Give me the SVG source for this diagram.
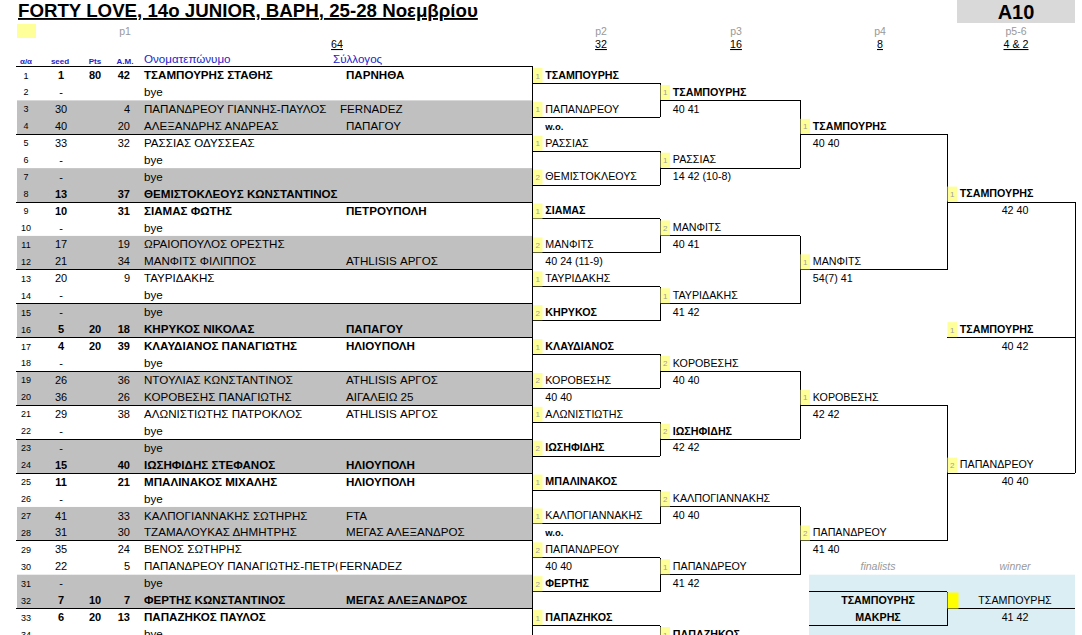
<svg xmlns="http://www.w3.org/2000/svg" width="1082" height="635" viewBox="0 0 1082 635">
<defs>
<style>
text{font-family:"Liberation Sans",Arial,"Noto Sans",sans-serif;fill:#000}
.b{font-weight:bold}
.aa{font-size:9px;text-anchor:middle;font-weight:normal}
.sd{font-size:11px;text-anchor:middle}
.am{font-size:11px;text-anchor:end}
.nm{font-size:11.6px}
.bn{font-size:10.7px}
.sc{font-size:10.7px}
.sc5{font-size:10.7px;text-anchor:middle}
.wo{font-size:9.5px;font-weight:bold}
.yd{font-size:8px;fill:#a0a0a0;text-anchor:middle;font-weight:normal}
.yb{fill:#ffff99}
.ln{stroke:#000;stroke-width:1;fill:none;shape-rendering:crispEdges}
.hd{fill:#2323c8}
.hs{font-size:8px;font-weight:bold;text-anchor:middle}
.pg{fill:#999;font-size:10.5px;text-anchor:middle}
.cn{font-size:10.7px;text-anchor:middle;text-decoration:underline}
.it{font-style:italic;fill:#999;font-size:10.5px;text-anchor:middle}
.gr{fill:#c0c0c0}
</style>
<clipPath id="clip30"><rect x="0" y="-5" width="337.5" height="25"/></clipPath>
</defs>
<rect width="1082" height="635" fill="#fff"/>

<g id="header">
<text x="18" y="17" font-size="18.7" font-weight="bold" text-decoration="underline">FORTY LOVE, 14o JUNIOR, ΒΑΡΗ, 25-28 Νοεμβρίου</text>
<rect x="957" y="0" width="118" height="23" fill="#d9d9d9"/>
<text x="1016" y="19" font-size="20" font-weight="bold" text-anchor="middle">A10</text>
<rect x="17" y="24" width="19" height="14" class="yb"/>
<text class="pg" x="125" y="35">p1</text>
<text class="pg" x="601" y="35">p2</text>
<text class="pg" x="736" y="35">p3</text>
<text class="pg" x="880" y="35">p4</text>
<text class="pg" x="1016" y="35">p5-6</text>
<text class="cn" x="337" y="48">64</text>
<text class="cn" x="601" y="48">32</text>
<text class="cn" x="736" y="48">16</text>
<text class="cn" x="880" y="48">8</text>
<text class="cn" x="1016" y="48">4 &amp; 2</text>
<text class="hs hd" x="26" y="64">α/α</text>
<text class="hs hd" x="60" y="64">seed</text>
<text class="hs hd" x="95" y="64">Pts</text>
<text class="hs hd" x="125" y="64">A.M.</text>
<text class="nm hd" x="144" y="63">Ονοματεπώνυμο</text>
<text class="nm hd" x="333" y="63">Σύλλογος</text>
</g>

<g id="table-shading">
<rect class="gr" x="17" y="100.38" width="515.5" height="33.88"/>
<rect class="gr" x="17" y="168.14" width="515.5" height="33.88"/>
<rect class="gr" x="17" y="235.9" width="515.5" height="33.88"/>
<rect class="gr" x="17" y="303.66" width="515.5" height="33.88"/>
<rect class="gr" x="17" y="371.42" width="515.5" height="33.88"/>
<rect class="gr" x="17" y="439.18" width="515.5" height="33.88"/>
<rect class="gr" x="17" y="506.94" width="515.5" height="33.88"/>
<rect class="gr" x="17" y="574.7" width="515.5" height="33.88"/>
<rect x="809" y="574.7" width="266" height="61" fill="#daeef3"/>
</g>

<g id="table-grid" class="ln">
<path d="M16 66.5H532.5M16 134.26H532.5M16 202.02H532.5M16 269.78H532.5M16 303.66H532.5M16 337.54H532.5M16 371.42H532.5M16 405.3H532.5M16 439.18H532.5M16 473.06H532.5M16 540.82H532.5M16 608.58H532.5M532.5 66.5V635"/>
</g>

<g id="rows">
<g id="row1" class="b" transform="translate(0,66.5)"><text class="aa" x="26" y="12">1</text><text class="sd" x="61" y="12.6">1</text><text class="sd" x="95" y="12.6">80</text><text class="am" x="130" y="12.6">42</text><text class="nm" x="144" y="12.6">ΤΣΑΜΠΟΥΡΗΣ ΣΤΑΘΗΣ</text><text class="nm" x="346" y="12.6">ΠΑΡΝΗΘΑ</text></g>
<g id="row2" transform="translate(0,83.44)"><text class="aa" x="26" y="12">2</text><text class="sd" x="61" y="12.6">-</text><text class="nm" x="144" y="12.6">bye</text></g>
<g id="row3" transform="translate(0,100.38)"><text class="aa" x="26" y="12">3</text><text class="sd" x="61" y="12.6">30</text><text class="am" x="130" y="12.6">4</text><text class="nm" x="144" y="12.6">ΠΑΠΑΝΔΡΕΟΥ ΓΙΑΝΝΗΣ-ΠΑΥΛΟΣ</text><text class="nm" x="340" y="12.6">FERNADEZ</text></g>
<g id="row4" transform="translate(0,117.32)"><text class="aa" x="26" y="12">4</text><text class="sd" x="61" y="12.6">40</text><text class="am" x="130" y="12.6">20</text><text class="nm" x="144" y="12.6">ΑΛΕΞΑΝΔΡΗΣ ΑΝΔΡΕΑΣ</text><text class="nm" x="346" y="12.6">ΠΑΠΑΓΟΥ</text></g>
<g id="row5" transform="translate(0,134.26)"><text class="aa" x="26" y="12">5</text><text class="sd" x="61" y="12.6">33</text><text class="am" x="130" y="12.6">32</text><text class="nm" x="144" y="12.6">ΡΑΣΣΙΑΣ ΟΔΥΣΣΕΑΣ</text></g>
<g id="row6" transform="translate(0,151.2)"><text class="aa" x="26" y="12">6</text><text class="sd" x="61" y="12.6">-</text><text class="nm" x="144" y="12.6">bye</text></g>
<g id="row7" transform="translate(0,168.14)"><text class="aa" x="26" y="12">7</text><text class="sd" x="61" y="12.6">-</text><text class="nm" x="144" y="12.6">bye</text></g>
<g id="row8" class="b" transform="translate(0,185.08)"><text class="aa" x="26" y="12">8</text><text class="sd" x="61" y="12.6">13</text><text class="am" x="130" y="12.6">37</text><text class="nm" x="144" y="12.6">ΘΕΜΙΣΤΟΚΛΕΟΥΣ ΚΩΝΣΤΑΝΤΙΝΟΣ</text></g>
<g id="row9" class="b" transform="translate(0,202.02)"><text class="aa" x="26" y="12">9</text><text class="sd" x="61" y="12.6">10</text><text class="am" x="130" y="12.6">31</text><text class="nm" x="144" y="12.6">ΣΙΑΜΑΣ ΦΩΤΗΣ</text><text class="nm" x="346" y="12.6">ΠΕΤΡΟΥΠΟΛΗ</text></g>
<g id="row10" transform="translate(0,218.96)"><text class="aa" x="26" y="12">10</text><text class="sd" x="61" y="12.6">-</text><text class="nm" x="144" y="12.6">bye</text></g>
<g id="row11" transform="translate(0,235.9)"><text class="aa" x="26" y="12">11</text><text class="sd" x="61" y="12.6">17</text><text class="am" x="130" y="12.6">19</text><text class="nm" x="144" y="12.6">ΩΡΑΙΟΠΟΥΛΟΣ ΟΡΕΣΤΗΣ</text></g>
<g id="row12" transform="translate(0,252.84)"><text class="aa" x="26" y="12">12</text><text class="sd" x="61" y="12.6">21</text><text class="am" x="130" y="12.6">34</text><text class="nm" x="144" y="12.6">ΜΑΝΦΙΤΣ ΦΙΛΙΠΠΟΣ</text><text class="nm" x="346" y="12.6">ATHLISIS ΑΡΓΟΣ</text></g>
<g id="row13" transform="translate(0,269.78)"><text class="aa" x="26" y="12">13</text><text class="sd" x="61" y="12.6">20</text><text class="am" x="130" y="12.6">9</text><text class="nm" x="144" y="12.6">ΤΑΥΡΙΔΑΚΗΣ</text></g>
<g id="row14" transform="translate(0,286.72)"><text class="aa" x="26" y="12">14</text><text class="sd" x="61" y="12.6">-</text><text class="nm" x="144" y="12.6">bye</text></g>
<g id="row15" transform="translate(0,303.66)"><text class="aa" x="26" y="12">15</text><text class="sd" x="61" y="12.6">-</text><text class="nm" x="144" y="12.6">bye</text></g>
<g id="row16" class="b" transform="translate(0,320.6)"><text class="aa" x="26" y="12">16</text><text class="sd" x="61" y="12.6">5</text><text class="sd" x="95" y="12.6">20</text><text class="am" x="130" y="12.6">18</text><text class="nm" x="144" y="12.6">ΚΗΡΥΚΟΣ ΝΙΚΟΛΑΣ</text><text class="nm" x="346" y="12.6">ΠΑΠΑΓΟΥ</text></g>
<g id="row17" class="b" transform="translate(0,337.54)"><text class="aa" x="26" y="12">17</text><text class="sd" x="61" y="12.6">4</text><text class="sd" x="95" y="12.6">20</text><text class="am" x="130" y="12.6">39</text><text class="nm" x="144" y="12.6">ΚΛΑΥΔΙΑΝΟΣ ΠΑΝΑΓΙΩΤΗΣ</text><text class="nm" x="346" y="12.6">ΗΛΙΟΥΠΟΛΗ</text></g>
<g id="row18" transform="translate(0,354.48)"><text class="aa" x="26" y="12">18</text><text class="sd" x="61" y="12.6">-</text><text class="nm" x="144" y="12.6">bye</text></g>
<g id="row19" transform="translate(0,371.42)"><text class="aa" x="26" y="12">19</text><text class="sd" x="61" y="12.6">26</text><text class="am" x="130" y="12.6">36</text><text class="nm" x="144" y="12.6">ΝΤΟΥΛΙΑΣ ΚΩΝΣΤΑΝΤΙΝΟΣ</text><text class="nm" x="346" y="12.6">ATHLISIS ΑΡΓΟΣ</text></g>
<g id="row20" transform="translate(0,388.36)"><text class="aa" x="26" y="12">20</text><text class="sd" x="61" y="12.6">36</text><text class="am" x="130" y="12.6">26</text><text class="nm" x="144" y="12.6">ΚΟΡΟΒΕΣΗΣ ΠΑΝΑΓΙΩΤΗΣ</text><text class="nm" x="346" y="12.6">ΑΙΓΑΛΕΙΩ 25</text></g>
<g id="row21" transform="translate(0,405.3)"><text class="aa" x="26" y="12">21</text><text class="sd" x="61" y="12.6">29</text><text class="am" x="130" y="12.6">38</text><text class="nm" x="144" y="12.6">ΑΛΩΝΙΣΤΙΩΤΗΣ ΠΑΤΡΟΚΛΟΣ</text><text class="nm" x="346" y="12.6">ATHLISIS ΑΡΓΟΣ</text></g>
<g id="row22" transform="translate(0,422.24)"><text class="aa" x="26" y="12">22</text><text class="sd" x="61" y="12.6">-</text><text class="nm" x="144" y="12.6">bye</text></g>
<g id="row23" transform="translate(0,439.18)"><text class="aa" x="26" y="12">23</text><text class="sd" x="61" y="12.6">-</text><text class="nm" x="144" y="12.6">bye</text></g>
<g id="row24" class="b" transform="translate(0,456.12)"><text class="aa" x="26" y="12">24</text><text class="sd" x="61" y="12.6">15</text><text class="am" x="130" y="12.6">40</text><text class="nm" x="144" y="12.6">ΙΩΣΗΦΙΔΗΣ ΣΤΕΦΑΝΟΣ</text><text class="nm" x="346" y="12.6">ΗΛΙΟΥΠΟΛΗ</text></g>
<g id="row25" class="b" transform="translate(0,473.06)"><text class="aa" x="26" y="12">25</text><text class="sd" x="61" y="12.6">11</text><text class="am" x="130" y="12.6">21</text><text class="nm" x="144" y="12.6">ΜΠΑΛΙΝΑΚΟΣ ΜΙΧΑΛΗΣ</text><text class="nm" x="346" y="12.6">ΗΛΙΟΥΠΟΛΗ</text></g>
<g id="row26" transform="translate(0,490)"><text class="aa" x="26" y="12">26</text><text class="sd" x="61" y="12.6">-</text><text class="nm" x="144" y="12.6">bye</text></g>
<g id="row27" transform="translate(0,506.94)"><text class="aa" x="26" y="12">27</text><text class="sd" x="61" y="12.6">41</text><text class="am" x="130" y="12.6">33</text><text class="nm" x="144" y="12.6">ΚΑΛΠΟΓΙΑΝΝΑΚΗΣ ΣΩΤΗΡΗΣ</text><text class="nm" x="346" y="12.6">FTA</text></g>
<g id="row28" transform="translate(0,523.88)"><text class="aa" x="26" y="12">28</text><text class="sd" x="61" y="12.6">31</text><text class="am" x="130" y="12.6">30</text><text class="nm" x="144" y="12.6">ΤΖΑΜΑΛΟΥΚΑΣ ΔΗΜΗΤΡΗΣ</text><text class="nm" x="346" y="12.6">ΜΕΓΑΣ ΑΛΕΞΑΝΔΡΟΣ</text></g>
<g id="row29" transform="translate(0,540.82)"><text class="aa" x="26" y="12">29</text><text class="sd" x="61" y="12.6">35</text><text class="am" x="130" y="12.6">24</text><text class="nm" x="144" y="12.6">ΒΕΝΟΣ ΣΩΤΗΡΗΣ</text></g>
<g id="row30" transform="translate(0,557.76)"><text class="aa" x="26" y="12">30</text><text class="sd" x="61" y="12.6">22</text><text class="am" x="130" y="12.6">5</text><text class="nm" x="144" y="12.6" clip-path="url(#clip30)">ΠΑΠΑΝΔΡΕΟΥ ΠΑΝΑΓΙΩΤΗΣ-ΠΕΤΡ(</text><text class="nm" x="339.5" y="12.6">FERNADEZ</text></g>
<g id="row31" transform="translate(0,574.7)"><text class="aa" x="26" y="12">31</text><text class="sd" x="61" y="12.6">-</text><text class="nm" x="144" y="12.6">bye</text></g>
<g id="row32" class="b" transform="translate(0,591.64)"><text class="aa" x="26" y="12">32</text><text class="sd" x="61" y="12.6">7</text><text class="sd" x="95" y="12.6">10</text><text class="am" x="130" y="12.6">7</text><text class="nm" x="144" y="12.6">ΦΕΡΤΗΣ ΚΩΝΣΤΑΝΤΙΝΟΣ</text><text class="nm" x="346" y="12.6">ΜΕΓΑΣ ΑΛΕΞΑΝΔΡΟΣ</text></g>
<g id="row33" class="b" transform="translate(0,608.58)"><text class="aa" x="26" y="12">33</text><text class="sd" x="61" y="12.6">6</text><text class="sd" x="95" y="12.6">20</text><text class="am" x="130" y="12.6">13</text><text class="nm" x="144" y="12.6">ΠΑΠΑΖΗΚΟΣ ΠΑΥΛΟΣ</text></g>
<g id="row34" transform="translate(0,625.52)"><text class="aa" x="26" y="12">34</text><text class="sd" x="61" y="12.6">-</text><text class="nm" x="144" y="12.6">bye</text></g>
</g>

<g id="connectors" class="ln">
<path d="M532.5 83.44H660M532.5 117.32H660M532.5 151.2H660M532.5 185.08H660M532.5 218.96H660M532.5 252.84H660M532.5 286.72H660M532.5 320.6H660M532.5 354.48H660M532.5 388.36H660M532.5 422.24H660M532.5 456.12H660M532.5 490H660M532.5 523.88H660M532.5 557.76H660M532.5 591.64H660M532.5 625.52H660"/>
<path d="M660 83.44V117.32M660 151.2V185.08M660 218.96V252.84M660 286.72V320.6M660 354.48V388.36M660 422.24V456.12M660 490V523.88M660 557.76V591.64M660 625.52V635"/>
<path d="M660 100.38H800M660 168.14H800M660 235.9H800M660 303.66H800M660 371.42H800M660 439.18H800M660 506.94H800M660 574.7H800"/>
<path d="M800 100.38V168.14M800 235.9V303.66M800 371.42V439.18M800 506.94V574.7"/>
<path d="M800 134.26H947M800 269.78H947M800 405.3H947M800 540.82H947M947 134.26V269.78M947 405.3V540.82"/>
<path d="M947 202.02H1075M947 337.54H1075M947 473.06H1075M1075 202.02V473.06"/>
<path d="M809 591.64H947M809 625.52H947M947 591.64V625.52M947 608.58H1075"/>
</g>

<g id="p2">
<g id="p2-1" transform="translate(532.5,66.5)"><rect class="yb" x="0.5" y="1.5" width="9.5" height="15"/><text class="yd" x="5.2" y="12">1</text><text class="bn b" x="12.8" y="12.3">ΤΣΑΜΠΟΥΡΗΣ</text></g>
<g id="p2-3" transform="translate(532.5,100.38)"><rect class="yb" x="0.5" y="1.5" width="9.5" height="15"/><text class="yd" x="5.2" y="12">1</text><text class="bn" x="12.8" y="12.3">ΠΑΠΑΝΔΡΕΟΥ</text><text class="wo" x="12.8" y="29.2">w.o.</text></g>
<g id="p2-5" transform="translate(532.5,134.26)"><rect class="yb" x="0.5" y="1.5" width="9.5" height="15"/><text class="yd" x="5.2" y="12">1</text><text class="bn" x="12.8" y="12.3">ΡΑΣΣΙΑΣ</text></g>
<g id="p2-7" transform="translate(532.5,168.14)"><rect class="yb" x="0.5" y="1.5" width="9.5" height="15"/><text class="yd" x="5.2" y="12">2</text><text class="bn" x="12.8" y="12.3">ΘΕΜΙΣΤΟΚΛΕΟΥΣ</text></g>
<g id="p2-9" transform="translate(532.5,202.02)"><rect class="yb" x="0.5" y="1.5" width="9.5" height="15"/><text class="yd" x="5.2" y="12">1</text><text class="bn b" x="12.8" y="12.3">ΣΙΑΜΑΣ</text></g>
<g id="p2-11" transform="translate(532.5,235.9)"><rect class="yb" x="0.5" y="1.5" width="9.5" height="15"/><text class="yd" x="5.2" y="12">2</text><text class="bn" x="12.8" y="12.3">ΜΑΝΦΙΤΣ</text><text class="sc" x="12.8" y="29.2">40 24 (11-9)</text></g>
<g id="p2-13" transform="translate(532.5,269.78)"><rect class="yb" x="0.5" y="1.5" width="9.5" height="15"/><text class="yd" x="5.2" y="12">1</text><text class="bn" x="12.8" y="12.3">ΤΑΥΡΙΔΑΚΗΣ</text></g>
<g id="p2-15" transform="translate(532.5,303.66)"><rect class="yb" x="0.5" y="1.5" width="9.5" height="15"/><text class="yd" x="5.2" y="12">2</text><text class="bn b" x="12.8" y="12.3">ΚΗΡΥΚΟΣ</text></g>
<g id="p2-17" transform="translate(532.5,337.54)"><rect class="yb" x="0.5" y="1.5" width="9.5" height="15"/><text class="yd" x="5.2" y="12">1</text><text class="bn b" x="12.8" y="12.3">ΚΛΑΥΔΙΑΝΟΣ</text></g>
<g id="p2-19" transform="translate(532.5,371.42)"><rect class="yb" x="0.5" y="1.5" width="9.5" height="15"/><text class="yd" x="5.2" y="12">2</text><text class="bn" x="12.8" y="12.3">ΚΟΡΟΒΕΣΗΣ</text><text class="sc" x="12.8" y="29.2">40 40</text></g>
<g id="p2-21" transform="translate(532.5,405.3)"><rect class="yb" x="0.5" y="1.5" width="9.5" height="15"/><text class="yd" x="5.2" y="12">1</text><text class="bn" x="12.8" y="12.3">ΑΛΩΝΙΣΤΙΩΤΗΣ</text></g>
<g id="p2-23" transform="translate(532.5,439.18)"><rect class="yb" x="0.5" y="1.5" width="9.5" height="15"/><text class="yd" x="5.2" y="12">2</text><text class="bn b" x="12.8" y="12.3">ΙΩΣΗΦΙΔΗΣ</text></g>
<g id="p2-25" transform="translate(532.5,473.06)"><rect class="yb" x="0.5" y="1.5" width="9.5" height="15"/><text class="yd" x="5.2" y="12">1</text><text class="bn b" x="12.8" y="12.3">ΜΠΑΛΙΝΑΚΟΣ</text></g>
<g id="p2-27" transform="translate(532.5,506.94)"><rect class="yb" x="0.5" y="1.5" width="9.5" height="15"/><text class="yd" x="5.2" y="12">1</text><text class="bn" x="12.8" y="12.3">ΚΑΛΠΟΓΙΑΝΝΑΚΗΣ</text><text class="wo" x="12.8" y="29.2">w.o.</text></g>
<g id="p2-29" transform="translate(532.5,540.82)"><rect class="yb" x="0.5" y="1.5" width="9.5" height="15"/><text class="yd" x="5.2" y="12">2</text><text class="bn" x="12.8" y="12.3">ΠΑΠΑΝΔΡΕΟΥ</text><text class="sc" x="12.8" y="29.2">40 40</text></g>
<g id="p2-31" transform="translate(532.5,574.7)"><rect class="yb" x="0.5" y="1.5" width="9.5" height="15"/><text class="yd" x="5.2" y="12">2</text><text class="bn b" x="12.8" y="12.3">ΦΕΡΤΗΣ</text></g>
<g id="p2-33" transform="translate(532.5,608.58)"><rect class="yb" x="0.5" y="1.5" width="9.5" height="15"/><text class="yd" x="5.2" y="12">1</text><text class="bn b" x="12.8" y="12.3">ΠΑΠΑΖΗΚΟΣ</text></g>
</g>

<g id="p3">
<g id="p3-2" transform="translate(660,83.44)"><rect class="yb" x="0.5" y="1.5" width="9.5" height="15"/><text class="yd" x="5.2" y="12">1</text><text class="bn b" x="12.8" y="12.3">ΤΣΑΜΠΟΥΡΗΣ</text><text class="sc" x="12.8" y="29.2">40 41</text></g>
<g id="p3-6" transform="translate(660,151.2)"><rect class="yb" x="0.5" y="1.5" width="9.5" height="15"/><text class="yd" x="5.2" y="12">1</text><text class="bn" x="12.8" y="12.3">ΡΑΣΣΙΑΣ</text><text class="sc" x="12.8" y="29.2">14 42 (10-8)</text></g>
<g id="p3-10" transform="translate(660,218.96)"><rect class="yb" x="0.5" y="1.5" width="9.5" height="15"/><text class="yd" x="5.2" y="12">2</text><text class="bn" x="12.8" y="12.3">ΜΑΝΦΙΤΣ</text><text class="sc" x="12.8" y="29.2">40 41</text></g>
<g id="p3-14" transform="translate(660,286.72)"><rect class="yb" x="0.5" y="1.5" width="9.5" height="15"/><text class="yd" x="5.2" y="12">1</text><text class="bn" x="12.8" y="12.3">ΤΑΥΡΙΔΑΚΗΣ</text><text class="sc" x="12.8" y="29.2">41 42</text></g>
<g id="p3-18" transform="translate(660,354.48)"><rect class="yb" x="0.5" y="1.5" width="9.5" height="15"/><text class="yd" x="5.2" y="12">2</text><text class="bn" x="12.8" y="12.3">ΚΟΡΟΒΕΣΗΣ</text><text class="sc" x="12.8" y="29.2">40 40</text></g>
<g id="p3-22" transform="translate(660,422.24)"><rect class="yb" x="0.5" y="1.5" width="9.5" height="15"/><text class="yd" x="5.2" y="12">2</text><text class="bn b" x="12.8" y="12.3">ΙΩΣΗΦΙΔΗΣ</text><text class="sc" x="12.8" y="29.2">42 42</text></g>
<g id="p3-26" transform="translate(660,490)"><rect class="yb" x="0.5" y="1.5" width="9.5" height="15"/><text class="yd" x="5.2" y="12">2</text><text class="bn" x="12.8" y="12.3">ΚΑΛΠΟΓΙΑΝΝΑΚΗΣ</text><text class="sc" x="12.8" y="29.2">40 40</text></g>
<g id="p3-30" transform="translate(660,557.76)"><rect class="yb" x="0.5" y="1.5" width="9.5" height="15"/><text class="yd" x="5.2" y="12">1</text><text class="bn" x="12.8" y="12.3">ΠΑΠΑΝΔΡΕΟΥ</text><text class="sc" x="12.8" y="29.2">41 42</text></g>
<g id="p3-34" transform="translate(660,625.52)"><rect class="yb" x="0.5" y="1.5" width="9.5" height="15"/><text class="yd" x="5.2" y="12">1</text><text class="bn b" x="12.8" y="12.3">ΠΑΠΑΖΗΚΟΣ</text></g>
</g>

<g id="p4">
<g id="p4-4" transform="translate(800,117.32)"><rect class="yb" x="0.5" y="1.5" width="9.5" height="15"/><text class="yd" x="5.2" y="12">1</text><text class="bn b" x="12.8" y="12.3">ΤΣΑΜΠΟΥΡΗΣ</text><text class="sc" x="12.8" y="29.2">40 40</text></g>
<g id="p4-12" transform="translate(800,252.84)"><rect class="yb" x="0.5" y="1.5" width="9.5" height="15"/><text class="yd" x="5.2" y="12">1</text><text class="bn" x="12.8" y="12.3">ΜΑΝΦΙΤΣ</text><text class="sc" x="12.8" y="29.2">54(7) 41</text></g>
<g id="p4-20" transform="translate(800,388.36)"><rect class="yb" x="0.5" y="1.5" width="9.5" height="15"/><text class="yd" x="5.2" y="12">1</text><text class="bn" x="12.8" y="12.3">ΚΟΡΟΒΕΣΗΣ</text><text class="sc" x="12.8" y="29.2">42 42</text></g>
<g id="p4-28" transform="translate(800,523.88)"><rect class="yb" x="0.5" y="1.5" width="9.5" height="15"/><text class="yd" x="5.2" y="12">2</text><text class="bn" x="12.8" y="12.3">ΠΑΠΑΝΔΡΕΟΥ</text><text class="sc" x="12.8" y="29.2">41 40</text></g>
</g>

<g id="p5">
<g id="p5-8" transform="translate(947,185.08)"><rect class="yb" x="0.5" y="1.5" width="9.5" height="15"/><text class="yd" x="5.2" y="12">1</text><text class="bn b" x="12.8" y="12.3">ΤΣΑΜΠΟΥΡΗΣ</text><text class="sc5" x="68" y="29.2">42 40</text></g>
<g id="p5-16" transform="translate(947,320.6)"><rect class="yb" x="0.5" y="1.5" width="9.5" height="15"/><text class="yd" x="5.2" y="12">1</text><text class="bn b" x="12.8" y="12.3">ΤΣΑΜΠΟΥΡΗΣ</text><text class="sc5" x="68" y="29.2">40 42</text></g>
<g id="p5-24" transform="translate(947,456.12)"><rect class="yb" x="0.5" y="1.5" width="9.5" height="15"/><text class="yd" x="5.2" y="12">2</text><text class="bn" x="12.8" y="12.3">ΠΑΠΑΝΔΡΕΟΥ</text><text class="sc5" x="68" y="29.2">40 40</text></g>
</g>

<g id="finals">
<text class="it" x="878" y="570.4">finalists</text>
<text class="it" x="1015" y="570.4">winner</text>
<g id="finalists"><text class="sc5 b" x="878" y="603.9">ΤΣΑΜΠΟΥΡΗΣ</text><text class="sc5 b" x="878" y="620.9">ΜΑΚΡΗΣ</text></g>
<g id="winner"><rect x="947.5" y="592.5" width="11" height="16" fill="#ffff00"/><text class="sc5" x="1015" y="603.9">ΤΣΑΜΠΟΥΡΗΣ</text><text class="sc5" x="1015" y="620.9">41 42</text></g>
</g>
</svg>
